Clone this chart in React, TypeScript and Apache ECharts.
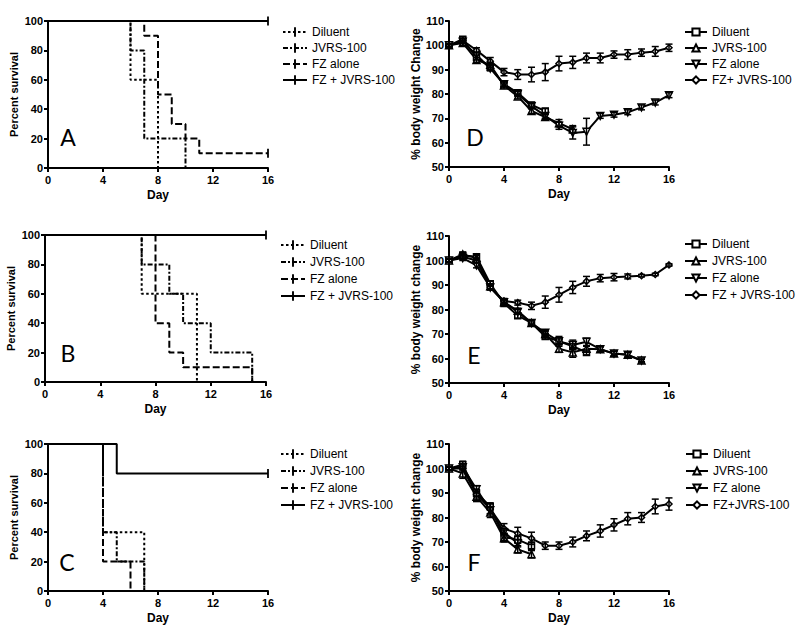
import React, { useEffect, useRef } from "react";
import * as echarts from "echarts";

const FONT = '"Liberation Sans", Arial, sans-serif';
const LETTER_FONT = 'Lato, "Open Sans", sans-serif';

const xTicks = [0, 4, 8, 12, 16];
const days = [0, 1, 2, 3, 4, 5, 6, 7, 8, 9, 10, 11, 12, 13, 14, 15, 16];

// ---------- Survival (step points: [day, percent]) ----------
const survA_diluent = [[0, 100], [6, 60], [8, 0]];
const survA_jvrs = [[0, 100], [6, 80], [7, 20], [10, 0]];
const survA_fz = [[0, 100], [7, 90], [8, 50], [9, 30], [10, 20], [11, 10], [16, 10]];
const survA_fzj = [[0, 100], [16, 100]];

const survB_diluent = [[0, 100], [7, 60], [11, 0]];
const survB_jvrs = [[0, 100], [7, 80], [9, 60], [10, 40], [12, 20], [15, 0]];
const survB_fz = [[0, 100], [8, 40], [9, 20], [10, 10], [15, 0]];
const survB_fzj = [[0, 100], [16, 100]];

const survC_diluent = [[0, 100], [4, 40], [7, 0]];
const survC_jvrs = [[0, 100], [4, 40], [5, 20], [7, 0]];
const survC_fz = [[0, 100], [4, 20], [6, 0]];
const survC_fzj = [[0, 100], [5, 80], [16, 80]];

// ---------- Body weight (% of day 0), index = day ----------
const wD_diluent = [100, 102.5, 95, 91, 84, 80.5, 75.5, 73];
const wD_diluent_err = [0.5, 1, 1, 1, 1, 1, 1, 1];
const wD_jvrs = [100, 101, 94, 92, 83.5, 79, 73, 70.5, 68, 65.5];
const wD_jvrs_err = [0.5, 1, 1, 1, 1, 1, 1, 1, 1.5, 1.5];
const wD_fz = [100, 101.5, 96, 90.5, 84, 80, 75, 71, 67, 64, 64.5, 71, 71.5, 72.5, 74.5, 76.5, 79.5];
const wD_fz_err = [0.5, 0.5, 1, 1, 1, 1, 1, 1, 1.5, 2.5, 5.5, 1, 1, 1, 1, 1, 1];
const wD_fzj = [100, 102, 98, 93.5, 89, 88, 88, 89, 92.5, 93, 94.8, 94.8, 96.2, 96.2, 97, 97.5, 99];
const wD_fzj_err = [0.5, 0.8, 1, 1.5, 1.5, 2, 3, 3.5, 3, 2.5, 2, 2, 1.5, 2, 1.5, 2, 1.5];

const wE_diluent = [100, 102, 101.5, 90.5, 82.5, 77.5, 74.5, 69, 67, 65, 62.5];
const wE_diluent_err = [0.5, 1, 1, 1, 1, 1, 1, 1, 1, 1, 1];
const wE_jvrs = [100, 102.5, 101, 89.5, 83, 79.5, 74.5, 70, 64, 62.5, 64, 63.8, 62, 61.5, 59.2];
const wE_jvrs_err = [0.5, 1, 1, 1, 1, 1, 1, 1, 1.5, 2, 1, 1, 1, 1, 0.5];
const wE_fz = [100, 101, 98, 89, 83, 79, 74.5, 70.5, 67, 65.5, 66.8, 63.8, 62, 61.5, 59.2];
const wE_fz_err = [0.5, 1, 1, 1, 1, 1, 1, 1, 2, 2, 1.5, 1, 1, 1, 1];
const wE_fzj = [100, 101.5, 100, 89, 83.5, 82.8, 81.5, 83, 86, 89, 91.5, 92.8, 93.2, 93.5, 93.8, 94.3, 98.2];
const wE_fzj_err = [0.5, 1, 1, 1, 1, 1, 1.5, 2.5, 3, 2.5, 2, 1.5, 1.5, 1, 0.5, 0.5, 0.5];

const wF_diluent = [100, 101.5, 90, 84.5, 72, 71, 68.5];
const wF_diluent_err = [0.5, 1.5, 1.5, 1.5, 1.5, 1.5, 1.5];
const wF_jvrs = [100, 98, 88.5, 82, 71.5, 67, 65];
const wF_jvrs_err = [0.5, 2, 2, 2, 1.5, 1.5, 1.5];
const wF_fz = [100, 100.5, 91.5, 83, 74, 69.5];
const wF_fz_err = [0.5, 1, 1.5, 1.5, 1.5, 1.5];
const wF_fzj = [100, 100, 89.5, 83.5, 75.5, 73.5, 71.5, 68.5, 68.5, 70, 72.5, 74.5, 77, 79.5, 80, 84.5, 85.5];
const wF_fzj_err = [0.5, 1, 2, 2, 2, 2.5, 2.5, 1.5, 1.5, 2, 2, 2.5, 2.5, 2.5, 2, 3, 2.5];

// censor tick symbol (square bounding box, narrow vertical bar)
const TICK = "path://M4,0 L6,0 L6,10 L4,10 Z M0,5 L0,5 M10,5 L10,5";

const DASH_DILUENT = [2.5, 2.5];
const DASH_JVRS = [5, 2, 2, 2];
const DASH_FZ = [7, 3];

function survSeries(name: string, pts: number[][], dash: any) {
  const last = pts.length - 1;
  return {
    type: "line",
    name,
    step: "end",
    data: pts.map((p, i) =>
      i === last && p[1] > 0 ? { value: p } : { value: p, symbol: "none" }
    ),
    symbol: TICK,
    symbolSize: 9,
    lineStyle: { color: "#000", width: 2, type: dash },
    itemStyle: { color: "#000", borderWidth: 0 },
    emphasis: { disabled: true },
    animation: false,
  };
}

function weightSeries(
  name: string,
  vals: number[],
  errs: number[],
  symbol: string,
  rotate: number,
  size: number
) {
  const line = {
    type: "line",
    name,
    data: vals.map((v, i) => [days[i], v]),
    symbol,
    symbolRotate: rotate,
    symbolSize: size,
    showAllSymbol: true,
    lineStyle: { color: "#000", width: 2 },
    itemStyle: { color: "#fff", borderColor: "#000", borderWidth: 1.5 },
    emphasis: { disabled: true },
    z: 3,
    animation: false,
  };
  const err = {
    type: "custom",
    name: name + " SEM",
    data: vals.map((v, i) => [days[i], v - errs[i], v + errs[i]]),
    encode: { x: 0, y: [1, 2] },
    silent: true,
    z: 4,
    renderItem: (params: any, api: any) => {
      const x = api.value(0);
      const lo = api.coord([x, api.value(1)]);
      const hi = api.coord([x, api.value(2)]);
      const w = 3.5;
      const st = { stroke: "#000", lineWidth: 1.5 };
      return {
        type: "group",
        children: [
          { type: "line", shape: { x1: lo[0], y1: lo[1], x2: hi[0], y2: hi[1] }, style: st },
          { type: "line", shape: { x1: lo[0] - w, y1: lo[1], x2: lo[0] + w, y2: lo[1] }, style: st },
          { type: "line", shape: { x1: hi[0] - w, y1: hi[1], x2: hi[0] + w, y2: hi[1] }, style: st },
        ],
      };
    },
    animation: false,
  };
  return [err, line];
}

const axisCommon = {
  axisLine: { show: true, onZero: false, lineStyle: { color: "#000", width: 2 } },
  axisTick: { show: true, length: 4, inside: false, lineStyle: { color: "#000", width: 2 } },
  splitLine: { show: false },
  nameMoveOverlap: false,
};

function baseOption(
  grid: any,
  yMin: number,
  yMax: number,
  yInterval: number,
  yName: string,
  yNameSize: number,
  yNameGap: number,
  legendNames: string[],
  legendPos: any,
  legendIcon: { w: number; h: number },
  letter: string,
  letterPos: number[],
  series: any[]
) {
  return {
    animation: false,
    backgroundColor: "#fff",
    grid: { ...grid, containLabel: false, outerBoundsMode: "none" },
    xAxis: {
      type: "value",
      min: 0,
      max: 16,
      interval: 4,
      name: "Day",
      nameLocation: "middle",
      nameGap: 21,
      nameTextStyle: { fontFamily: FONT, fontWeight: "bold", fontSize: 12, color: "#000" },
      axisLabel: {
        fontFamily: FONT,
        fontWeight: "bold",
        fontSize: 11,
        color: "#000",
        margin: 6,
        customValues: xTicks,
      },
      ...axisCommon,
    },
    yAxis: {
      type: "value",
      min: yMin,
      max: yMax,
      interval: yInterval,
      name: yName,
      nameLocation: "middle",
      nameGap: yNameGap,
      nameTextStyle: { fontFamily: FONT, fontWeight: "bold", fontSize: yNameSize, color: "#000" },
      axisLabel: { fontFamily: FONT, fontWeight: "bold", fontSize: 11, color: "#000", margin: 5 },
      ...axisCommon,
    },
    legend: {
      data: legendNames,
      orient: "vertical",
      ...legendPos,
      itemWidth: legendIcon.w,
      itemHeight: legendIcon.h,
      itemGap: legendPos.gap,
      itemTextGap: 4,
      selectedMode: false,
      padding: 0,
      textStyle: { fontFamily: FONT, fontSize: 12, color: "#000", lineHeight: 12 },
    },
    graphic: [
      {
        type: "text",
        x: letterPos[0],
        y: letterPos[1],
        style: {
          text: letter,
          fontFamily: LETTER_FONT,
          fontSize: 23,
          fill: "#000",
          textAlign: "center",
          textVerticalAlign: "middle",
        },
      },
    ],
    series,
  };
}

const survNames = ["Diluent", "JVRS-100", "FZ alone", "FZ + JVRS-100"];

function survOption(
  data: number[][][],
  grid: any,
  legendPos: any,
  letter: string,
  letterPos: number[]
) {
  const series = [
    survSeries(survNames[0], data[0], DASH_DILUENT),
    survSeries(survNames[1], data[1], DASH_JVRS),
    survSeries(survNames[2], data[2], DASH_FZ),
    survSeries(survNames[3], data[3], "solid"),
  ];
  return baseOption(grid, 0, 100, 20, "Percent survival", 11, 29, survNames, legendPos, { w: 24, h: 12 }, letter, letterPos, series);
}

function weightOption(
  names: string[],
  vals: number[][],
  errs: number[][],
  yName: string,
  grid: any,
  legendPos: any,
  letter: string,
  letterPos: number[]
) {
  const series = [
    ...weightSeries(names[0], vals[0], errs[0], "rect", 0, 6),
    ...weightSeries(names[1], vals[1], errs[1], "triangle", 0, 7),
    ...weightSeries(names[2], vals[2], errs[2], "triangle", 180, 7),
    ...weightSeries(names[3], vals[3], errs[3], "diamond", 0, 6),
  ];
  return baseOption(grid, 50, 110, 10, yName, 12, 27, names, legendPos, { w: 22, h: 9 }, letter, letterPos, series);
}

const panels = [
  {
    left: 0, top: 0, height: 210,
    option: () =>
      survOption(
        [survA_diluent, survA_jvrs, survA_fz, survA_fzj],
        { left: 48, top: 21, width: 220, height: 147 },
        { left: 282, top: 26, gap: 4 },
        "A",
        [68, 137]
      ),
  },
  {
    left: 0, top: 210, height: 210,
    option: () =>
      survOption(
        [survB_diluent, survB_jvrs, survB_fz, survB_fzj],
        { left: 45, top: 25, width: 221, height: 147 },
        { left: 280, top: 29, gap: 5 },
        "B",
        [68, 143]
      ),
  },
  {
    left: 0, top: 420, height: 214,
    option: () =>
      survOption(
        [survC_diluent, survC_jvrs, survC_fz, survC_fzj],
        { left: 48, top: 24, width: 220, height: 147 },
        { left: 280, top: 28, gap: 5 },
        "C",
        [67, 142]
      ),
  },
  {
    left: 400, top: 0, height: 210,
    option: () =>
      weightOption(
        ["Diluent", "JVRS-100", "FZ alone", "FZ+ JVRS-100"],
        [wD_diluent, wD_jvrs, wD_fz, wD_fzj],
        [wD_diluent_err, wD_jvrs_err, wD_fz_err, wD_fzj_err],
        "% body weight Change",
        { left: 49, top: 21, width: 220, height: 146 },
        { left: 284, top: 26, gap: 4 },
        "D",
        [75, 137]
      ),
  },
  {
    left: 400, top: 210, height: 210,
    option: () =>
      weightOption(
        ["Diluent", "JVRS-100", "FZ alone", "FZ + JVRS-100"],
        [wE_diluent, wE_jvrs, wE_fz, wE_fzj],
        [wE_diluent_err, wE_jvrs_err, wE_fz_err, wE_fzj_err],
        "% body weight change",
        { left: 49, top: 26, width: 220, height: 147 },
        { left: 284, top: 28, gap: 5 },
        "E",
        [74, 145]
      ),
  },
  {
    left: 400, top: 420, height: 214,
    option: () =>
      weightOption(
        ["Diluent", "JVRS-100", "FZ alone", "FZ+JVRS-100"],
        [wF_diluent, wF_jvrs, wF_fz, wF_fzj],
        [wF_diluent_err, wF_jvrs_err, wF_fz_err, wF_fzj_err],
        "% body weight change",
        { left: 49, top: 24, width: 220, height: 147 },
        { left: 285, top: 28, gap: 5 },
        "F",
        [74, 142]
      ),
  },
];

export default function App() {
  const refs = useRef<(HTMLDivElement | null)[]>([]);

  useEffect(() => {
    const charts = panels.map((p, i) => {
      const el = refs.current[i] as HTMLDivElement;
      const chart = echarts.init(el, undefined, { renderer: "svg" });
      chart.setOption(p.option() as any);
      return chart;
    });
    return () => {
      charts.forEach((c) => c.dispose());
    };
  }, []);

  return (
    <div style={{ position: "absolute", left: 0, top: 0, width: 800, height: 634, background: "#fff" }}>
      {panels.map((p, i) => (
        <div
          key={i}
          ref={(el) => {
            refs.current[i] = el;
          }}
          style={{ position: "absolute", left: p.left, top: p.top, width: 400, height: p.height }}
        />
      ))}
    </div>
  );
}
